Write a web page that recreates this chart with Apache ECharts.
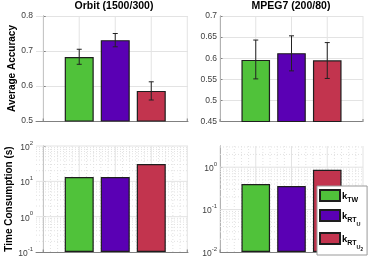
<!DOCTYPE html>
<html><head><meta charset="utf-8">
<script src="https://cdn.jsdelivr.net/npm/echarts@6/dist/echarts.min.js"></script>
<style>html,body{margin:0;padding:0;background:#fff}#c{width:374px;height:261px}</style>
</head><body><div id="c"></div>
<script>
// ---- data ----
const methods = ['kTW', 'kRTU', 'kRTU2'];
const positions = [1, 2, 3];
const orbitAcc = [0.683, 0.731, 0.586];
const orbitErrLow = [0.662, 0.712, 0.560];
const orbitErrHigh = [0.705, 0.750, 0.612];
const mpegAcc = [0.596, 0.612, 0.595];
const mpegErrLow = [0.551, 0.570, 0.552];
const mpegErrHigh = [0.643, 0.653, 0.637];
const orbitTime = [13.3, 13.2, 31];
const mpegTime = [0.40, 0.36, 0.87];
const titles = ['Orbit (1500/300)', 'MPEG7 (200/80)'];
const yNames = ['Average Accuracy', 'Time Consumption (s)'];
const xTicks = [0, 1, 2, 3, 4];

// ---- style ----
const FONT = '"Liberation Sans", Arial, Helvetica, sans-serif';
const colors = ['#50c23a', '#5a00b4', '#c2344e'];
const axisColor = '#808080';
const labelColor = '#404040';
const majorGrid = '#e3e3e3';
const minorGrid = '#e2e2e2';

const grids = [
  {left: 36, top: 16, width: 152, height: 105},
  {left: 220, top: 16, width: 143, height: 105.5},
  {left: 36, top: 146, width: 152, height: 106},
  {left: 220, top: 146, width: 143, height: 106}
];
const axCfg = [
  {xMin: -0.2, xMax: 4.02, yMin: 0.5, yMax: 0.8, log: false},
  {xMin: 0, xMax: 4, yMin: 0.45, yMax: 0.7, log: false},
  {xMin: -0.2, xMax: 4.02, yMin: 0.1, yMax: 100, log: true},
  {xMin: 0, xMax: 4, yMin: 0.01, yMax: Math.pow(10, 0.5), log: true}
];

function logMajors(a, b) {
  const r = [];
  for (let e = Math.ceil(Math.log10(a) - 1e-9); e <= Math.log10(b) + 1e-9; e++) r.push(Math.pow(10, e));
  return r;
}
function logMinors(a, b) {
  const r = [];
  for (let e = Math.floor(Math.log10(a)); e <= Math.ceil(Math.log10(b)); e++) {
    for (let k = 2; k <= 9; k++) { const v = k * Math.pow(10, e); if (v > a && v < b) r.push(v); }
  }
  return r;
}

function gridSeries(g) {
  const c = axCfg[g];
  return {
    type: 'custom', xAxisIndex: g, yAxisIndex: g, z: 1, silent: true, clip: false,
    data: [[1, c.yMin]],
    renderItem: function (params, api) {
      const ch = [];
      const line = (a, b, style) => ch.push({type: 'line', shape: {x1: a[0], y1: a[1], x2: b[0], y2: b[1]}, style: style});
      const dotted = {stroke: minorGrid, lineWidth: 1, lineDash: [1, 2]};
      const solid = {stroke: majorGrid, lineWidth: 1};
      if (c.log) {
        for (let i = 0; i <= 20; i++) {
          const x = i * 0.2;
          if (i % 5 === 0) continue;
          if (x < c.xMin || x > c.xMax) continue;
          line(api.coord([x, c.yMin]), api.coord([x, c.yMax]), dotted);
        }
        logMinors(c.yMin, c.yMax).forEach(v => line(api.coord([c.xMin, v]), api.coord([c.xMax, v]), dotted));
        logMajors(c.yMin, c.yMax).forEach((v, i) => { if (i > 0) line(api.coord([c.xMin, v]), api.coord([c.xMax, v]), solid); });
      }
      xTicks.forEach(x => line(api.coord([x, c.yMin]), api.coord([x, c.yMax]), solid));
      xTicks.forEach(x => { const p = api.coord([x, c.yMin]); line(p, [p[0], p[1] - 2.5], {stroke: axisColor, lineWidth: 1}); });
      return {type: 'group', children: ch};
    }
  };
}

function errSeries(g, lows, highs) {
  return {
    type: 'custom', xAxisIndex: g, yAxisIndex: g, z: 5, silent: true,
    data: positions.map((p, i) => [p, lows[i], highs[i]]),
    encode: {x: 0, y: [1, 2]},
    renderItem: function (params, api) {
      const x = api.value(0);
      const a = api.coord([x, api.value(1)]);
      const b = api.coord([x, api.value(2)]);
      const w = 2.5;
      const st = {stroke: '#222', lineWidth: 1};
      return {type: 'group', children: [
        {type: 'line', shape: {x1: a[0], y1: a[1], x2: b[0], y2: b[1]}, style: st},
        {type: 'line', shape: {x1: a[0] - w, y1: a[1], x2: a[0] + w, y2: a[1]}, style: st},
        {type: 'line', shape: {x1: b[0] - w, y1: b[1], x2: b[0] + w, y2: b[1]}, style: st}
      ]};
    }
  };
}

function barSeries(g, vals) {
  return methods.map((m, i) => ({
    type: 'bar', name: m, xAxisIndex: g, yAxisIndex: g, z: 3,
    barWidth: g % 2 === 0 ? 29 : 28.6, barGap: '-100%',
    data: [[positions[i], vals[i]]],
    itemStyle: {color: colors[i], borderColor: '#1e1e1e', borderWidth: 1.2},
    silent: true, animation: false
  }));
}

const xAxes = axCfg.map((c, g) => ({
  type: 'value', gridIndex: g, min: c.xMin, max: c.xMax,
  axisLabel: {show: false}, axisTick: {show: false}, splitLine: {show: false},
  axisLine: {show: true, onZero: false, lineStyle: {color: axisColor, width: 1}}
}));

const supRich = {
  b: {fontSize: 8.5, color: labelColor, fontFamily: FONT, lineHeight: 12, verticalAlign: 'bottom'},
  sup: {fontSize: 6, color: labelColor, fontFamily: FONT, lineHeight: 6, verticalAlign: 'top'}
};

const yAxes = axCfg.map((c, g) => {
  const base = {
    gridIndex: g, min: c.yMin, max: c.yMax,
    axisLine: {show: true, lineStyle: {color: axisColor, width: 1}},
    axisTick: {show: true, inside: true, length: 2.5, lineStyle: {color: axisColor}},
    name: g % 2 === 0 ? yNames[g / 2] : '',
    nameLocation: 'middle', nameRotate: 90, nameGap: g === 0 ? 19 : 21,
    nameTextStyle: {fontSize: 10, fontWeight: 'bold', color: '#000', fontFamily: FONT}
  };
  if (!c.log) {
    return Object.assign(base, {
      type: 'value', interval: g === 0 ? 0.1 : 0.05,
      axisLabel: {fontSize: 8.5, color: labelColor, fontFamily: FONT, margin: 3,
        formatter: v => String(+v.toFixed(2))},
      splitLine: {show: true, lineStyle: {color: majorGrid, width: 1}}
    });
  }
  return Object.assign(base, {
    type: 'log', logBase: 10, startValue: c.yMin,
    axisLabel: {margin: 3, showMaxLabel: g === 2,
      formatter: v => { const e = Math.log10(v); if (Math.abs(e - Math.round(e)) > 1e-6) return ''; return '{b|10}{sup|' + Math.round(e) + '}'; },
      rich: supRich},
    splitLine: {show: false}
  });
});

const labelMap = {
  kTW: '{k|k}{s1|TW}',
  kRTU: '{k|k}{s1|RT}{s2|U}',
  kRTU2: '{k|k}{s1|RT}{s2|U}{s3|2}'
};

const option = {
  animation: false,
  backgroundColor: '#fff',
  textStyle: {fontFamily: FONT},
  grid: grids,
  xAxis: xAxes,
  yAxis: yAxes,
  graphic: [
    {type: 'text', x: 114, y: 0.5, style: {text: titles[0], textAlign: 'center', textVerticalAlign: 'top', font: 'bold 10.5px ' + FONT, fill: '#000'}},
    {type: 'text', x: 291, y: 0.5, style: {text: titles[1], textAlign: 'center', textVerticalAlign: 'top', font: 'bold 10.5px ' + FONT, fill: '#000'}}
  ],
  legend: {
    data: methods, orient: 'vertical', left: 317, top: 186,
    padding: [3, 4, 3, 2], itemGap: 5, itemWidth: 20, itemHeight: 11, icon: 'rect',
    backgroundColor: '#fff', borderColor: '#9a9a9a', borderWidth: 1,
    selectedMode: false,
    formatter: n => labelMap[n],
    textStyle: {
      padding: [0, 0, 0, -3],
      rich: {
        k: {fontSize: 9.5, fontWeight: 'bold', color: '#000', fontFamily: FONT, lineHeight: 9, verticalAlign: 'top'},
        s1: {fontSize: 7, fontWeight: 'bold', color: '#000', fontFamily: FONT, lineHeight: 7, padding: [6, 0, 0, 0], verticalAlign: 'top'},
        s2: {fontSize: 5.5, fontWeight: 'bold', color: '#000', fontFamily: FONT, lineHeight: 5.5, padding: [10, 0, 0, 0], verticalAlign: 'top'},
        s3: {fontSize: 4.5, fontWeight: 'bold', color: '#000', fontFamily: FONT, lineHeight: 4.5, padding: [13, 0, 0, 0], verticalAlign: 'top'}
      }
    }
  },
  series: [
    gridSeries(0), gridSeries(1), gridSeries(2), gridSeries(3),
    ...barSeries(0, orbitAcc), ...barSeries(1, mpegAcc),
    ...barSeries(2, orbitTime), ...barSeries(3, mpegTime),
    errSeries(0, orbitErrLow, orbitErrHigh), errSeries(1, mpegErrLow, mpegErrHigh)
  ]
};
const chart = echarts.init(document.getElementById('c'), null, {renderer: 'canvas'});
chart.setOption(option);
</script></body></html>
